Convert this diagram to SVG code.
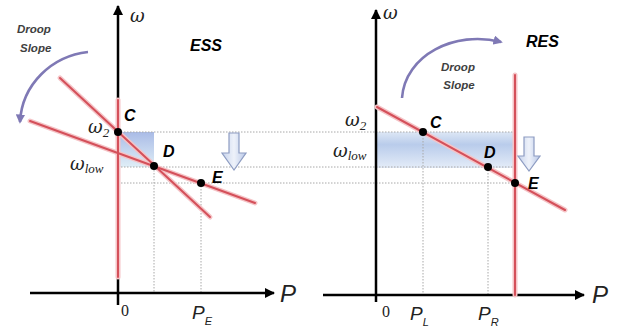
<svg xmlns="http://www.w3.org/2000/svg" width="633" height="330" viewBox="0 0 633 330">
<defs>
  <marker id="axArrow" viewBox="0 0 10 10" refX="9" refY="5" markerWidth="4" markerHeight="4" orient="auto">
    <path d="M0 0 L10 5 L0 10 Z" fill="#000"/>
  </marker>
  <marker id="curvArrow" viewBox="0 0 10 10" refX="8" refY="5" markerWidth="3.6" markerHeight="3.6" orient="auto">
    <path d="M0 0 L10 5 L0 10 Z" fill="#7f79b5"/>
  </marker>
  <linearGradient id="shadeL" x1="0" y1="0" x2="0" y2="1">
    <stop offset="0" stop-color="#a9bbe6"/>
    <stop offset="1" stop-color="#dfeef7"/>
  </linearGradient>
  <linearGradient id="shadeR" x1="0" y1="0" x2="0" y2="1">
    <stop offset="0" stop-color="#dde7f5"/>
    <stop offset="0.35" stop-color="#b9cceb"/>
    <stop offset="1" stop-color="#e4ecf8"/>
  </linearGradient>
  <linearGradient id="arrowFill" x1="0" y1="0" x2="1" y2="0">
    <stop offset="0" stop-color="#c7d3ec"/>
    <stop offset="0.5" stop-color="#eef2fa"/>
    <stop offset="1" stop-color="#b9c8e8"/>
  </linearGradient>
</defs>
<style>
  .axis{stroke:#000;stroke-width:2.5;fill:none}
  .halo{stroke:#f5c4c7;stroke-width:5;fill:none;stroke-linecap:round}
  .red{stroke:#d4505a;stroke-width:2;fill:none;stroke-linecap:round}
  .dot{stroke:#a8a8a8;stroke-width:1;stroke-dasharray:1.5 1.5;fill:none}
  .curve{stroke:#7f79b5;stroke-width:2.6;fill:none}
  .pt{fill:#000}
  .lbl{font-family:"Liberation Sans",Arial,sans-serif;font-weight:bold;font-style:italic;font-size:16px;fill:#000}
  .title{font-family:"Liberation Sans",Arial,sans-serif;font-weight:bold;font-style:italic;font-size:16px;fill:#000}
  .droop{font-family:"Liberation Sans",Arial,sans-serif;font-weight:bold;font-style:italic;font-size:11.5px;fill:#404040}
  .om{font-family:"DejaVu Serif","Liberation Serif",serif;font-style:italic;font-size:18px;fill:#222}
  .sub{font-family:"Liberation Serif","Times New Roman",serif;font-style:italic;font-size:13px;fill:#222}
  .pl{font-family:"Liberation Sans",Arial,sans-serif;font-style:italic;font-size:19px;fill:#222}
  .plsub{font-family:"Liberation Sans",Arial,sans-serif;font-style:italic;font-size:11px;fill:#222}
  .axp{font-family:"Liberation Sans",Arial,sans-serif;font-style:italic;font-size:24px;fill:#222}
  .zero{font-family:"Liberation Serif","Times New Roman",serif;font-size:16px;fill:#222}
  .darrow{fill:url(#arrowFill);stroke:#8d9cc2;stroke-width:1.2}
</style>

<g id="shading">
  <rect x="118" y="132" width="36" height="35" fill="url(#shadeL)"/>
  <rect x="376" y="132" width="139" height="36" fill="url(#shadeR)"/>
</g>

<g id="connectors">
  <line class="dot" x1="118" y1="132" x2="515" y2="132"/>
  <line class="dot" x1="118" y1="167" x2="515" y2="167"/>
  <line class="dot" x1="118" y1="183" x2="515" y2="183"/>
  <line class="dot" x1="154" y1="167" x2="154" y2="293"/>
  <line class="dot" x1="201" y1="183" x2="201" y2="293"/>
  <line class="dot" x1="423" y1="132" x2="423" y2="295"/>
  <line class="dot" x1="488" y1="167" x2="488" y2="295"/>
  <line class="axis" x1="118" y1="305" x2="118" y2="6" marker-end="url(#axArrow)"/>
  <line class="axis" x1="30" y1="293" x2="274" y2="293" marker-end="url(#axArrow)"/>
  <line class="axis" x1="376" y1="302" x2="376" y2="10" marker-end="url(#axArrow)"/>
  <line class="axis" x1="323" y1="295" x2="584" y2="295" marker-end="url(#axArrow)"/>
  <line class="halo" x1="118" y1="100" x2="118" y2="277"/>
  <line class="halo" x1="60" y1="78" x2="210" y2="217"/>
  <line class="halo" x1="30" y1="121" x2="255" y2="203"/>
  <line class="halo" x1="515" y1="75" x2="515" y2="295"/>
  <line class="halo" x1="377" y1="107" x2="565" y2="210"/>
  <line class="red" x1="118" y1="100" x2="118" y2="277"/>
  <line class="red" x1="60" y1="78" x2="210" y2="217"/>
  <line class="red" x1="30" y1="121" x2="255" y2="203"/>
  <line class="red" x1="515" y1="75" x2="515" y2="295"/>
  <line class="red" x1="377" y1="107" x2="565" y2="210"/>
  <path class="curve" d="M88 52 C52 56 22 84 20 122" marker-end="url(#curvArrow)"/>
  <path class="curve" d="M402 98 C405 55 455 30 501 42" marker-end="url(#curvArrow)"/>
  <path class="darrow" d="M229 133 H239 V153 H246 L234 170 L222 153 H229 Z"/>
  <path class="darrow" d="M524 137 H534 V156 H540 L529 171 L518 156 H524 Z"/>
</g>

<g id="ess">
  <text class="om" x="130" y="22" font-size="20">ω</text>
  <text class="title" x="190" y="51">ESS</text>
  <text class="droop" x="17" y="33">Droop</text>
  <text class="droop" x="20" y="52">Slope</text>
  <text class="zero" x="121" y="316">0</text>
  <text class="pl" x="192" y="319">P<tspan class="plsub" dy="6">E</tspan></text>
  <text class="axp" x="280" y="302">P</text>
  <text class="om" x="88" y="133">ω<tspan class="sub" dy="4">2</tspan></text>
  <text class="om" x="70" y="170">ω<tspan class="sub" dy="3">low</tspan></text>
</g>
<g id="node-C-left">
  <circle class="pt" cx="118" cy="132" r="4"/>
  <text class="lbl" x="124" y="121">C</text>
</g>
<g id="node-D-left">
  <circle class="pt" cx="154" cy="166" r="4"/>
  <text class="lbl" x="163" y="157">D</text>
</g>
<g id="node-E-left">
  <circle class="pt" cx="201" cy="183" r="4"/>
  <text class="lbl" x="212" y="183">E</text>
</g>

<g id="res">
  <text class="om" x="383" y="19" font-size="20">ω</text>
  <text class="title" x="526" y="47">RES</text>
  <text class="droop" x="458" y="71" text-anchor="middle">Droop</text>
  <text class="droop" x="459" y="89" text-anchor="middle">Slope</text>
  <text class="zero" x="382" y="317">0</text>
  <text class="pl" x="410" y="320">P<tspan class="plsub" dy="6">L</tspan></text>
  <text class="pl" x="478" y="320">P<tspan class="plsub" dy="6">R</tspan></text>
  <text class="axp" x="592" y="303">P</text>
  <text class="om" x="345" y="126">ω<tspan class="sub" dy="4">2</tspan></text>
  <text class="om" x="333" y="157">ω<tspan class="sub" dy="3">low</tspan></text>
</g>
<g id="node-C-right">
  <circle class="pt" cx="423" cy="132" r="4"/>
  <text class="lbl" x="430" y="128">C</text>
</g>
<g id="node-D-right">
  <circle class="pt" cx="488" cy="167" r="4"/>
  <text class="lbl" x="484" y="158">D</text>
</g>
<g id="node-E-right">
  <circle class="pt" cx="515" cy="183" r="4"/>
  <text class="lbl" x="528" y="189">E</text>
</g>
</svg>
